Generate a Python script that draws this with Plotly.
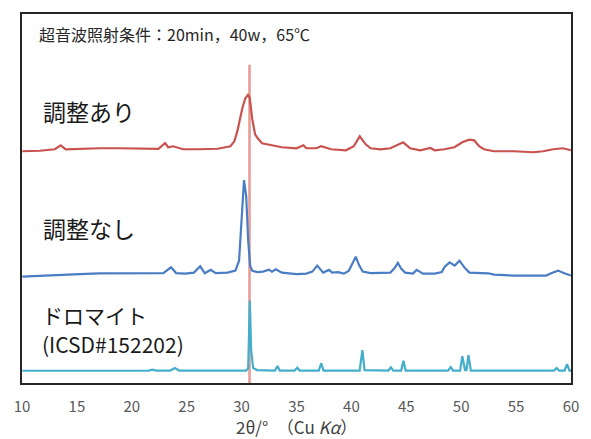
import plotly.graph_objects as go

# --- data (2θ in degrees, intensity in arbitrary units incl. stacking offset) ---
tt_adjusted = [10.03, 11.64, 12.99, 13.53, 13.98, 15.24, 17.03, 18.83, 20.63, 22.43, 23.03, 23.32, 23.77, 24.22,
               24.67, 26.02, 27.82, 28.98, 29.34, 29.61, 29.79, 30.06, 30.33, 30.58, 30.74, 30.83, 30.96, 31.23,
               31.47, 31.86, 32.76, 33.66, 35.0, 35.63, 35.9, 36.8, 37.25, 38.15, 39.5, 40.22, 40.76, 41.3,
               41.75, 42.65, 43.55, 44.72, 45.35, 46.25, 47.2, 47.58, 48.48, 49.38, 50.1, 50.73, 51.18, 51.63,
               52.08, 52.98, 54.78, 56.57, 57.47, 58.37, 59.27, 59.99]
int_adjusted = [233, 233.5, 235, 239, 235, 235.5, 236, 236, 236, 235.5, 241.3, 237, 238, 236.5,
                235, 235, 235.5, 238, 243, 253, 263, 276, 286, 289.7, 287, 278, 266, 250,
                246, 241, 239, 237, 236, 239, 236, 236, 238, 235, 234, 238, 248, 240,
                236, 235, 236, 242, 236, 234, 236.3, 234, 235, 237, 242, 244.7, 244, 238,
                235, 233, 233, 232, 233, 235, 236, 234]

tt_plain = [10.03, 11.64, 13.44, 15.24, 17.03, 18.83, 21.52, 22.87, 23.57, 24.04, 24.85, 25.66, 26.23, 26.65,
            27.19, 27.64, 28.72, 29.44, 29.77, 29.97, 30.22, 30.42, 30.6, 30.78, 30.96, 31.41, 31.95, 32.49,
            32.76, 33.12, 33.66, 35.0, 35.9, 36.44, 36.89, 37.43, 37.97, 38.24, 38.78, 39.32, 39.77, 40.13,
            40.4, 40.67, 41.03, 41.75, 42.65, 43.0, 43.55, 43.9, 44.23, 44.53, 44.89, 45.61, 45.94, 46.52,
            47.6, 48.23, 48.5, 48.95, 49.4, 49.85, 50.3, 50.75, 52.1, 52.46, 53.0, 54.78, 56.57, 57.74,
            58.19, 58.82, 59.45, 59.99]
int_plain = [107, 108, 109, 109.5, 110.3, 110.5, 111, 110.5, 116.3, 110.5, 110, 111, 117.3, 110.3,
             113.7, 110.5, 111, 113, 123, 163, 204, 188, 143, 118, 113, 111.5, 112, 114,
             112, 114.3, 111, 109.5, 110, 112, 118, 111, 113.7, 111, 111.5, 110, 113, 121,
             127, 119, 112, 110.5, 110.5, 110.7, 111, 115, 120.7, 115, 111, 110, 113.7, 110,
             110, 111.5, 117, 121.3, 118, 123, 116, 111, 110, 110.3, 109, 108, 108, 108,
             110.3, 113, 110, 108]

tt_dolomite = [10.03, 21.52, 21.88, 22.24, 23.5, 23.92, 24.31, 30.42, 30.6, 30.75, 30.87, 31.05, 31.41,
               33.03, 33.27, 33.48, 34.83, 35.07, 35.28, 37.03, 37.25, 37.47, 40.75, 41.0, 41.2,
               43.36, 43.6, 43.81, 44.53, 44.74, 44.94, 48.8, 49.04, 49.26, 49.9, 50.1, 50.35,
               50.48, 50.66, 50.88, 58.44, 58.69, 58.92, 59.41, 59.64, 59.86, 60.0]
int_dolomite = [12.3, 12.5, 13.5, 12.5, 12.5, 15, 12.5, 12.5, 15, 83, 33, 15, 13,
                12.5, 17, 12.5, 12.5, 15.3, 12.5, 12.5, 19.7, 12.5, 12.5, 33, 13,
                12.5, 15.7, 12.5, 12.5, 22.3, 12.5, 12.5, 16, 12.5, 12.5, 27, 13,
                13, 28, 12.5, 12.5, 15, 12.5, 12.5, 19, 12.5, 12.5]

ref_line_tt = [30.72, 30.72]
ref_line_int = [0, 320]

tick_vals = [10, 15, 20, 25, 30, 35, 40, 45, 50, 55, 60]
tick_text = [str(v) for v in tick_vals]

FONT = "Noto Sans CJK JP"

fig = go.Figure()
fig.add_trace(go.Scatter(x=ref_line_tt, y=ref_line_int, mode="lines",
                         line=dict(color="#E58C86", width=2.6), opacity=0.85, hoverinfo="skip"))
fig.add_trace(go.Scatter(x=tt_adjusted, y=int_adjusted, mode="lines",
                         line=dict(color="#C9524E", width=2.2), hoverinfo="skip"))
fig.add_trace(go.Scatter(x=tt_plain, y=int_plain, mode="lines",
                         line=dict(color="#4A7EC4", width=2.2), hoverinfo="skip"))
fig.add_trace(go.Scatter(x=tt_dolomite, y=int_dolomite, mode="lines",
                         line=dict(color="#45AECB", width=2.2), hoverinfo="skip"))

fig.update_layout(
    width=591, height=439,
    margin=dict(l=22, r=13, t=12, b=56),
    paper_bgcolor="white", plot_bgcolor="white",
    showlegend=False,
    font=dict(family=FONT),
    xaxis=dict(range=[10, 60], tickvals=tick_vals, ticktext=tick_text, ticks="",
               showgrid=False, zeroline=False, showline=True, mirror=True,
               linecolor="#262626", linewidth=2,
               tickfont=dict(size=15, color="#595959", family=FONT),
               ticklabelstandoff=9),
    yaxis=dict(range=[0, 371], showticklabels=False, ticks="", showgrid=False, zeroline=False,
               showline=True, mirror=True, linecolor="#262626", linewidth=2),
    annotations=[
        dict(text="超音波照射条件：20min，40w，65℃", xref="paper", yref="paper",
             x=0.027, y=0.946, xanchor="left", yanchor="middle", showarrow=False,
             font=dict(size=16, color="#262626", family=FONT)),
        dict(text="調整あり", xref="paper", yref="paper", x=0.034, y=0.738,
             xanchor="left", yanchor="middle", showarrow=False,
             font=dict(size=23, color="#1a1a1a", family=FONT)),
        dict(text="調整なし", xref="paper", yref="paper", x=0.034, y=0.420,
             xanchor="left", yanchor="middle", showarrow=False,
             font=dict(size=23, color="#1a1a1a", family=FONT)),
        dict(text="ドロマイト", xref="paper", yref="paper", x=0.032, y=0.183,
             xanchor="left", yanchor="middle", showarrow=False,
             font=dict(size=21, color="#1a1a1a", family=FONT)),
        dict(text="(ICSD#152202)", xref="paper", yref="paper", x=0.032, y=0.106,
             xanchor="left", yanchor="middle", showarrow=False,
             font=dict(size=21, color="#1a1a1a", family=FONT)),
        dict(text="2θ/°　（Cu <i>Kα</i>）", xref="paper", yref="paper", x=0.50, y=-0.118,
             xanchor="center", yanchor="middle", showarrow=False,
             font=dict(size=17, color="#404040", family=FONT)),
    ],
)

fig.write_html("out.html")
